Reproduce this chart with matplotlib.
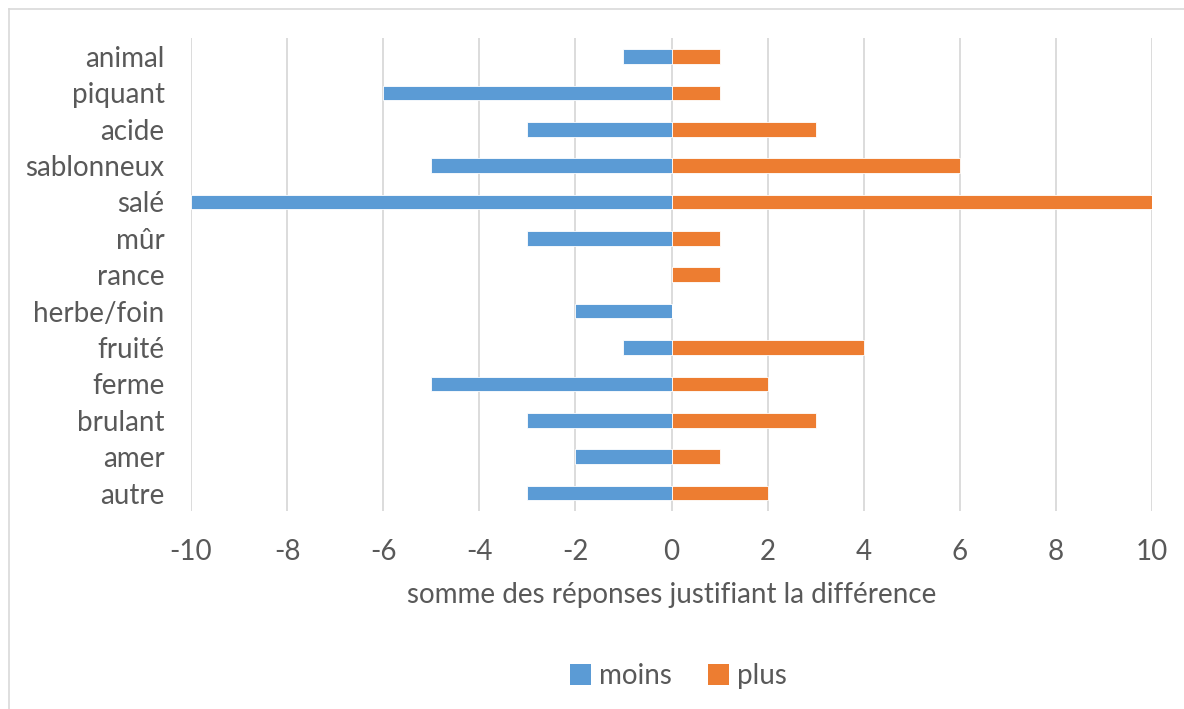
import matplotlib
matplotlib.use("Agg")
import matplotlib.pyplot as plt
from matplotlib.lines import Line2D
import numpy as np

plt.rcParams['font.family'] = ['Lato', 'DejaVu Sans']

# categories, listed top to bottom
categories = ['animal', 'piquant', 'acide', 'sablonneux', 'salé', 'mûr', 'rance',
              'herbe/foin', 'fruité', 'ferme', 'brulant', 'amer', 'autre']
moins = [-1, -6, -3, -5, -10, -3, 0, -2, -1, -5, -3, -2, -3]
plus = [1, 1, 3, 6, 10, 1, 1, 0, 4, 2, 3, 1, 2]
xticks = [-10, -8, -6, -4, -2, 0, 2, 4, 6, 8, 10]

text_col = '#595959'
grid_col = '#D9D9D9'
fs = 20

fig = plt.figure(figsize=(11.84, 7.09), dpi=100)
ax = fig.add_axes([0.1613, 0.279, 0.8117, 0.667])

y = np.arange(len(categories))[::-1]
ax.barh(y, moins, height=0.4, color='#5B9BD5', edgecolor='white', linewidth=0.6,
        label='moins', zorder=3)
ax.barh(y, plus, height=0.4, color='#ED7D31', edgecolor='white', linewidth=0.6,
        label='plus', zorder=3)

ax.set_xlim(-10, 10)
ax.set_ylim(-0.5, len(categories) - 0.5)
ax.set_xticks(xticks)
ax.set_xticklabels([str(v) for v in xticks])
ax.set_yticks(y)
ax.set_yticklabels(categories)
ax.tick_params(axis='both', length=0, labelsize=fs, colors=text_col)
ax.tick_params(axis='x', pad=20)
ax.tick_params(axis='y', pad=19)
ax.xaxis.grid(True, color=grid_col, linewidth=1.3, zorder=0)
ax.set_axisbelow(True)
for s in ax.spines.values():
    s.set_visible(False)

ax.set_xlabel('somme des réponses justifiant la différence', fontsize=fs,
              color=text_col, labelpad=12)

leg = fig.legend(loc='center', bbox_to_anchor=(0.573, 0.046), ncol=2, frameon=False,
                 fontsize=fs, handlelength=0.75, handleheight=0.8, columnspacing=1.3,
                 handletextpad=0.3)
for t in leg.get_texts():
    t.set_color(text_col)
for h in leg.legend_handles:
    h.set_edgecolor('none')

# outer chart frame
fx, fy = 9 / 1184, 1 - 9 / 709
fig.add_artist(Line2D([fx, 1], [fy, fy], color=grid_col, linewidth=1.2))
fig.add_artist(Line2D([fx, fx], [0, fy], color=grid_col, linewidth=1.2))

fig.savefig('out.png', dpi=100, facecolor='white')
